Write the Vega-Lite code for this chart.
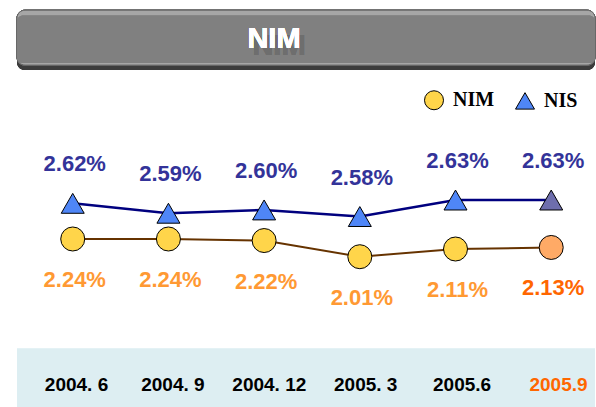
{
  "$schema": "https://vega.github.io/schema/vega-lite/v6.json",
  "width": 596,
  "height": 407,
  "autosize": {"type": "fit", "contains": "padding"},
  "padding": {"left": 16, "right": 0, "top": 0, "bottom": 0},
  "background": "white",
  "config": {
    "view": {"stroke": null},
    "legend": {"orient": "none", "legendX": 407, "legendY": 90, "direction": "horizontal", "title": null,
               "labelFont": "Liberation Serif", "labelFontWeight": "bold", "labelFontSize": 20, "labelColor": "black",
               "symbolSize": 361, "symbolOpacity": 1, "symbolStrokeWidth": 1,
               "labelOffset": 9, "columnPadding": 18, "padding": 0}
  },
  "data": {
    "values": [
      {"date": "2004. 6", "series": "NIS", "value": 0.0262},
      {"date": "2004. 9", "series": "NIS", "value": 0.0259},
      {"date": "2004. 12", "series": "NIS", "value": 0.0260},
      {"date": "2005. 3", "series": "NIS", "value": 0.0258},
      {"date": "2005.6", "series": "NIS", "value": 0.0263},
      {"date": "2005.9", "series": "NIS", "value": 0.0263},
      {"date": "2004. 6", "series": "NIM", "value": 0.0224},
      {"date": "2004. 9", "series": "NIM", "value": 0.0224},
      {"date": "2004. 12", "series": "NIM", "value": 0.0222},
      {"date": "2005. 3", "series": "NIM", "value": 0.0201},
      {"date": "2005.6", "series": "NIM", "value": 0.0211},
      {"date": "2005.9", "series": "NIM", "value": 0.0213}
    ]
  },
  "layer": [
    {
      "transform": [{"filter": "datum.series === 'NIM'"}],
      "layer": [
        {
          "mark": {"type": "rect", "color": "#3c3c3c", "cornerRadius": 8},
          "encoding": {
            "y": {"datum": 3.2, "type": "quantitative", "scale": {"domain": [0, 100], "reverse": true, "nice": false, "zero": false}, "axis": null},
            "y2": {"datum": 17.2}
          }
        },
        {
          "mark": {"type": "rect", "color": "#a6a6a6", "stroke": "#666666", "strokeWidth": 1, "cornerRadius": 8},
          "encoding": {
            "y": {"datum": 2.5, "type": "quantitative"},
            "y2": {"datum": 16.0}
          }
        },
        {
          "mark": {"type": "rect", "color": "#808080", "cornerRadius": 6},
          "encoding": {
            "y": {"datum": 3.9, "type": "quantitative"},
            "y2": {"datum": 15.5}
          }
        },
        {
          "mark": {"type": "text", "font": "Liberation Sans", "fontSize": 29, "fontWeight": "bold", "color": "#6e6e6e", "align": "center", "baseline": "middle", "dx": -27, "dy": 7},
          "encoding": {
            "y": {"datum": 9.46, "type": "quantitative"},
            "text": {"value": "NIM"}
          }
        },
        {
          "mark": {"type": "text", "font": "Liberation Sans", "fontSize": 29, "fontWeight": "bold", "color": "white", "align": "center", "baseline": "middle", "dx": -32},
          "encoding": {
            "y": {"datum": 9.46, "type": "quantitative"},
            "text": {"value": "NIM"}
          }
        },
        {
          "mark": {"type": "rect", "color": "#ddeef2"},
          "encoding": {
            "y": {"datum": 85.7, "type": "quantitative"},
            "y2": {"datum": 100}
          }
        },
        {
          "mark": {"type": "text", "font": "Liberation Sans", "fontSize": 19, "fontWeight": "bold", "align": "center", "baseline": "middle"},
          "encoding": {
            "x": {"field": "date", "type": "nominal", "axis": null,
                  "scale": {"type": "point", "domain": ["2004. 6", "2004. 9", "2004. 12", "2005. 3", "2005.6", "2005.9"], "padding": 0.498, "align": 0.62}},
            "y": {"datum": 94.5, "type": "quantitative"},
            "text": {"field": "date"},
            "color": {"condition": {"test": "datum.date === '2005.9'", "value": "#ff6600"}, "value": "black"}
          }
        }
      ]
    },
    {
      "encoding": {
        "x": {"field": "date", "type": "nominal", "axis": null,
              "scale": {"type": "point", "domain": ["2004. 6", "2004. 9", "2004. 12", "2005. 3", "2005.6", "2005.9"], "padding": 0.52, "align": 0.56}}
      },
      "layer": [
        {
          "transform": [{"filter": "datum.series === 'NIS'"}],
          "encoding": {
            "y": {"field": "value", "type": "quantitative", "axis": null,
                  "scale": {"domain": [0.02003, 0.03236], "nice": false, "zero": false}}
          },
          "layer": [
            {"mark": {"type": "line", "color": "#00007f", "strokeWidth": 2.5}},
            {
              "mark": {"type": "point", "filled": true, "opacity": 1, "size": 529, "strokeWidth": 1},
              "encoding": {
                "shape": {"field": "series", "type": "nominal",
                          "scale": {"domain": ["NIM", "NIS"], "range": ["circle", "triangle-up"]}},
                "stroke": {"field": "series", "type": "nominal",
                           "scale": {"domain": ["NIM", "NIS"], "range": ["#000000", "#000000"]}},
                "fill": {"field": "series", "type": "nominal",
                         "scale": {"domain": ["NIM", "NIS"], "range": ["#ffd54a", "#4f86f7"]},
                         "condition": {"test": "datum.date === '2005.9'", "value": "#6e6ead"}}
              }
            },
            {
              "mark": {"type": "text", "font": "Liberation Sans", "fontSize": 22, "fontWeight": "bold", "color": "#333399", "align": "center", "baseline": "middle", "dy": -39, "dx": 2},
              "encoding": {"text": {"field": "value", "type": "quantitative", "format": ".2%"}}
            }
          ]
        },
        {
          "transform": [{"filter": "datum.series === 'NIM'"}],
          "encoding": {
            "y": {"field": "value", "type": "quantitative", "axis": null,
                  "scale": {"domain": [0.00058, 0.05344], "nice": false, "zero": false}}
          },
          "layer": [
            {"mark": {"type": "line", "color": "#663300", "strokeWidth": 2}},
            {
              "mark": {"type": "point", "filled": true, "opacity": 1, "size": 576, "strokeWidth": 1},
              "encoding": {
                "shape": {"field": "series", "type": "nominal"},
                "stroke": {"field": "series", "type": "nominal"},
                "fill": {"field": "series", "type": "nominal",
                         "condition": {"test": "datum.date === '2005.9'", "value": "#ffaa66"}}
              }
            },
            {
              "mark": {"type": "text", "font": "Liberation Sans", "fontSize": 22, "fontWeight": "bold", "align": "center", "baseline": "middle", "dy": 41, "dx": 2},
              "encoding": {
                "text": {"field": "value", "type": "quantitative", "format": ".2%"},
                "color": {"condition": {"test": "datum.date === '2005.9'", "value": "#ff6600"}, "value": "#ff9933"}
              }
            }
          ]
        }
      ],
      "resolve": {"scale": {"y": "independent"}}
    }
  ],
  "resolve": {"scale": {"x": "independent", "y": "independent"}}
}
